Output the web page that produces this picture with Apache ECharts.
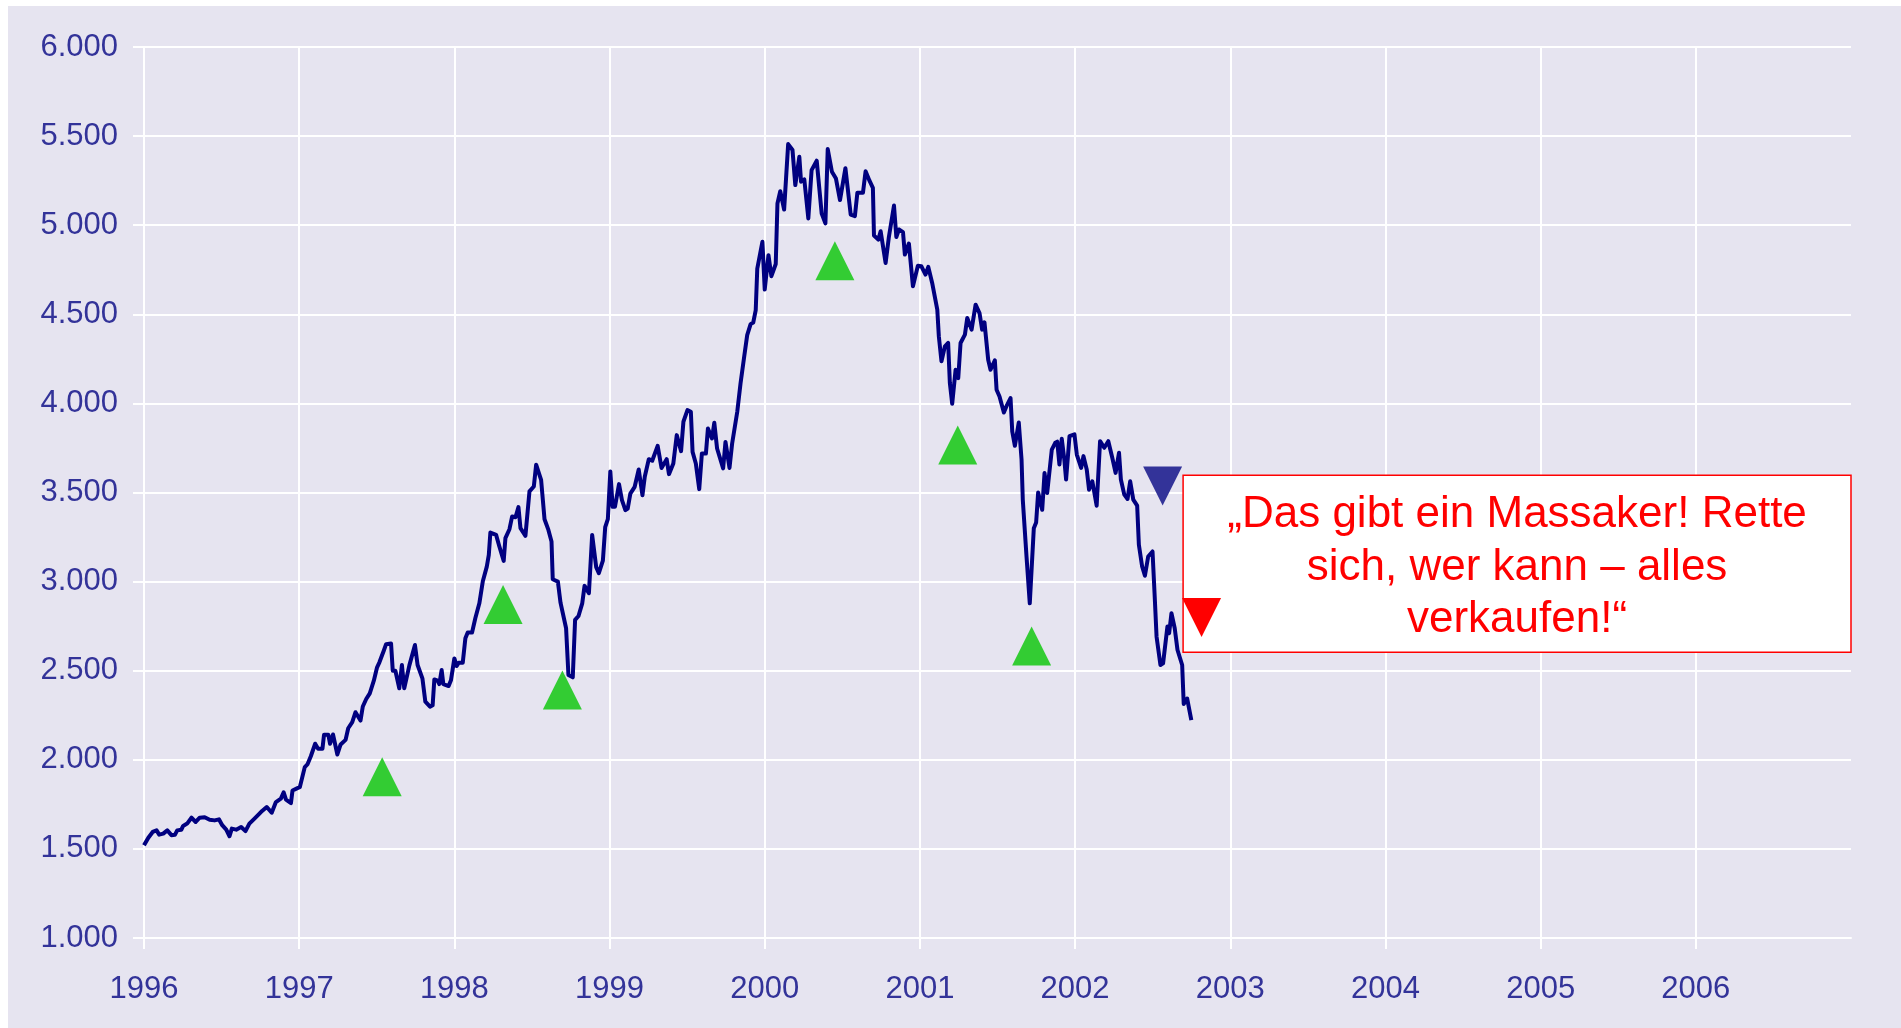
<!DOCTYPE html>
<html>
<head>
<meta charset="utf-8">
<title>Index 1996-2002</title>
<script src="https://cdn.jsdelivr.net/npm/echarts@6.0.0/dist/echarts.min.js"></script>
<style>
  html, body { margin: 0; padding: 0; background: #ffffff; }
  #chart { position: absolute; left: 8px; top: 6px; width: 1893px; height: 1022px; }
</style>
</head>
<body>
<div id="chart"></div>
<script>
// weekly closes, time as decimal year
const weeks = [
  1996.000, 1996.028, 1996.056, 1996.081, 1996.098, 1996.124, 1996.150, 1996.177, 1996.199, 1996.214,
  1996.241, 1996.252, 1996.278, 1996.306, 1996.333, 1996.359, 1996.391, 1996.423, 1996.455, 1996.483,
  1996.504, 1996.530, 1996.551, 1996.566, 1996.594, 1996.626, 1996.654, 1996.679, 1996.712, 1996.744,
  1996.761, 1996.791, 1996.823, 1996.850, 1996.882, 1996.900, 1996.915, 1996.947, 1996.957, 1996.989,
  1997.004, 1997.036, 1997.053, 1997.075, 1997.103, 1997.122, 1997.150, 1997.160, 1997.188, 1997.199,
  1997.218, 1997.246, 1997.267, 1997.299, 1997.316, 1997.342, 1997.363, 1997.374, 1997.395, 1997.410,
  1997.432, 1997.455, 1997.481, 1997.502, 1997.517, 1997.545, 1997.560, 1997.592, 1997.603, 1997.620,
  1997.645, 1997.662, 1997.677, 1997.710, 1997.746, 1997.763, 1997.794, 1997.813, 1997.843, 1997.860,
  1997.871, 1997.892, 1997.903, 1997.918, 1997.929, 1997.963, 1997.978, 1998.000, 1998.015, 1998.028,
  1998.054, 1998.071, 1998.086, 1998.114, 1998.135, 1998.161, 1998.183, 1998.209, 1998.222, 1998.232,
  1998.269, 1998.290, 1998.318, 1998.329, 1998.355, 1998.372, 1998.394, 1998.413, 1998.426, 1998.458,
  1998.484, 1998.512, 1998.527, 1998.559, 1998.581, 1998.606, 1998.626, 1998.634, 1998.667, 1998.684,
  1998.720, 1998.735, 1998.763, 1998.778, 1998.800, 1998.824, 1998.839, 1998.867, 1998.888, 1998.914,
  1998.931, 1998.957, 1998.972, 1998.989, 1999.005, 1999.020, 1999.035, 1999.061, 1999.080, 1999.102,
  1999.117, 1999.134, 1999.162, 1999.188, 1999.212, 1999.227, 1999.253, 1999.275, 1999.310, 1999.335,
  1999.368, 1999.383, 1999.411, 1999.433, 1999.461, 1999.476, 1999.502, 1999.524, 1999.535, 1999.556,
  1999.578, 1999.595, 1999.621, 1999.634, 1999.660, 1999.675, 1999.693, 1999.732, 1999.747, 1999.773,
  1999.790, 1999.823, 1999.844, 1999.866, 1999.887, 1999.909, 1999.926, 1999.942, 1999.952, 1999.985,
  2000.000, 2000.024, 2000.043, 2000.071, 2000.082, 2000.100, 2000.125, 2000.151, 2000.179, 2000.197,
  2000.223, 2000.234, 2000.255, 2000.281, 2000.302, 2000.335, 2000.367, 2000.391, 2000.406, 2000.433,
  2000.459, 2000.485, 2000.520, 2000.554, 2000.581, 2000.597, 2000.633, 2000.650, 2000.675, 2000.697,
  2000.704, 2000.732, 2000.747, 2000.779, 2000.800, 2000.833, 2000.848, 2000.865, 2000.891, 2000.903,
  2000.929, 2000.955, 2000.987, 2001.009, 2001.036, 2001.054, 2001.079, 2001.112, 2001.122, 2001.139,
  2001.161, 2001.182, 2001.193, 2001.208, 2001.230, 2001.247, 2001.262, 2001.290, 2001.305, 2001.333,
  2001.359, 2001.384, 2001.401, 2001.416, 2001.440, 2001.455, 2001.483, 2001.494, 2001.513, 2001.541,
  2001.562, 2001.584, 2001.595, 2001.612, 2001.637, 2001.655, 2001.663, 2001.687, 2001.708, 2001.734,
  2001.749, 2001.762, 2001.788, 2001.803, 2001.820, 2001.850, 2001.872, 2001.885, 2001.899, 2001.914,
  2001.930, 2001.942, 2001.964, 2001.996, 2002.011, 2002.039, 2002.054, 2002.075, 2002.090, 2002.111,
  2002.139, 2002.161, 2002.188, 2002.214, 2002.240, 2002.261, 2002.283, 2002.295, 2002.317, 2002.338,
  2002.355, 2002.375, 2002.400, 2002.411, 2002.432, 2002.450, 2002.471, 2002.499, 2002.514, 2002.525,
  2002.550, 2002.567, 2002.595, 2002.606, 2002.621, 2002.642, 2002.660, 2002.690, 2002.700, 2002.722,
  2002.749
];
const closes = [
  1520, 1563, 1595, 1604, 1580, 1586, 1604, 1577, 1579, 1604,
  1608, 1629, 1642, 1675, 1651, 1675, 1678, 1664, 1660, 1666,
  1633, 1608, 1571, 1614, 1608, 1623, 1600, 1642, 1670, 1698,
  1713, 1735, 1703, 1763, 1782, 1817, 1776, 1757, 1828, 1841,
  1846, 1959, 1974, 2020, 2090, 2062, 2062, 2140, 2140, 2090,
  2142, 2030, 2086, 2112, 2177, 2211, 2267, 2272, 2220, 2299,
  2341, 2373, 2444, 2519, 2547, 2612, 2649, 2653, 2500, 2500,
  2401, 2532, 2401, 2530, 2644, 2532, 2457, 2326, 2298, 2306,
  2451, 2444, 2425, 2504, 2425, 2414, 2446, 2569, 2526, 2545,
  2545, 2682, 2714, 2714, 2794, 2878, 3000, 3084, 3150, 3275,
  3262, 3197, 3116, 3244, 3294, 3365, 3361, 3418, 3300, 3257,
  3506, 3534, 3656, 3571, 3350, 3290, 3225, 3013, 3000, 2882,
  2738, 2476, 2463, 2785, 2807, 2878, 2976, 2935, 3262, 3081,
  3047, 3118, 3305, 3350, 3618, 3420, 3420, 3547, 3457, 3401,
  3410, 3494, 3532, 3629, 3485, 3588, 3687, 3678, 3762, 3638,
  3687, 3603, 3663, 3822, 3732, 3897, 3962, 3953, 3728, 3663,
  3519, 3719, 3719, 3859, 3803, 3891, 3747, 3635, 3784, 3638,
  3775, 3953, 4112, 4252, 4383, 4445, 4454, 4523, 4757, 4907,
  4639, 4832, 4714, 4782, 5122, 5191, 5088, 5455, 5422, 5225,
  5384, 5244, 5257, 5038, 5309, 5362, 5066, 5010, 5427, 5300,
  5262, 5141, 5320, 5060, 5051, 5182, 5182, 5303, 5250, 5210,
  4942, 4919, 4966, 4788, 4934, 5110, 4934, 4976, 4961, 4835,
  4897, 4657, 4773, 4770, 4723, 4766, 4676, 4526, 4376, 4236,
  4320, 4339, 4114, 3998, 4189, 4142, 4339, 4386, 4479, 4414,
  4554, 4507, 4414, 4455, 4245, 4189, 4242, 4077, 4039, 3949,
  3992, 4030, 3843, 3762, 3893, 3684, 3459, 3140, 2878, 3300,
  3332, 3500, 3403, 3609, 3497, 3741, 3779, 3785, 3657, 3801,
  3690, 3573, 3816, 3826, 3713, 3638, 3704, 3629, 3516, 3563,
  3426, 3788, 3751, 3788, 3694, 3610, 3723, 3573, 3488, 3464,
  3563, 3460, 3426, 3207, 3085, 3033, 3141, 3169, 2898, 2691,
  2532, 2541, 2748, 2710, 2823, 2738, 2616, 2532, 2313, 2344,
  2222
];

// signal markers [time, level]
const buySignals = [
  [1997.535, 1905], [1998.314, 2871], [1998.696, 2392],
  [2000.452, 4800], [2001.244, 3766], [2001.720, 2638]
];
const warnSignal = [[2002.564, 3536]];
const sellSignal = [[2002.815, 2799]];

// quote box corners [time, level]
const quoteFrom = [2002.696, 3597];
const quoteTo = [2007, 2603];
const quoteLines = ['„Das gibt ein Massaker! Rette', 'sich, wer kann – alles', 'verkaufen!“'];

const yearTicks = [1996, 1997, 1998, 1999, 2000, 2001, 2002, 2003, 2004, 2005, 2006];

const fontFamily = '"Liberation Sans", Arial, sans-serif';
const labelColor = '#333399';

const chart = echarts.init(document.getElementById('chart'));

function thousands(v) {
  return String(v).replace(/\B(?=(\d{3})+(?!\d))/g, '.');
}

chart.setOption({
  backgroundColor: '#e6e4f0',
  animation: false,
  grid: { left: 136, right: 50, top: 41, bottom: 90 },
  xAxis: {
    type: 'value',
    min: 1996,
    max: 2007,
    interval: 1,
    axisLine: { lineStyle: { color: '#ffffff', width: 2 } },
    axisTick: { customValues: yearTicks, length: 11, lineStyle: { color: '#ffffff', width: 2 } },
    axisLabel: {
      customValues: yearTicks,
      margin: 36,
      color: labelColor,
      fontSize: 31,
      fontFamily: fontFamily,
      formatter: v => String(v)
    },
    splitLine: { show: true, lineStyle: { color: '#ffffff', width: 2 } }
  },
  yAxis: {
    type: 'value',
    min: 1000,
    max: 6000,
    interval: 500,
    axisLine: { show: true, lineStyle: { color: '#ffffff', width: 2 } },
    axisTick: { show: true, length: 11, lineStyle: { color: '#ffffff', width: 2 } },
    axisLabel: {
      margin: 26,
      color: labelColor,
      fontSize: 31,
      fontFamily: fontFamily,
      formatter: v => thousands(v)
    },
    splitLine: { show: true, lineStyle: { color: '#ffffff', width: 2 } }
  },
  series: [
    {
      name: 'Index',
      type: 'line',
      data: weeks.map((t, i) => [t, closes[i]]),
      showSymbol: false,
      lineStyle: { color: '#000080', width: 4, join: 'round' },
      z: 2
    },
    {
      name: 'Kaufsignal',
      type: 'scatter',
      data: buySignals,
      symbol: 'triangle',
      symbolSize: [39, 39],
      itemStyle: { color: '#33cc33', opacity: 1 },
      z: 3
    },
    {
      name: 'Warnung',
      type: 'scatter',
      data: warnSignal,
      symbol: 'triangle',
      symbolRotate: 180,
      symbolSize: [39, 39],
      itemStyle: { color: '#333399', opacity: 1 },
      z: 3
    },
    {
      name: 'Zitat',
      type: 'line',
      data: [],
      z: 4,
      markArea: {
        silent: true,
        itemStyle: { color: '#ffffff', borderColor: '#ff0000', borderWidth: 1.5, opacity: 1 },
        label: {
          show: true,
          position: 'inside',
          offset: [0, 4],
          color: '#ff0000',
          fontSize: 44,
          lineHeight: 52.5,
          fontFamily: fontFamily,
          align: 'center',
          formatter: quoteLines.join('\n')
        },
        data: [[{ coord: quoteFrom }, { coord: quoteTo }]]
      }
    },
    {
      name: 'Verkaufsignal',
      type: 'scatter',
      data: sellSignal,
      symbol: 'triangle',
      symbolRotate: 180,
      symbolSize: [39, 39],
      itemStyle: { color: '#ff0000', opacity: 1 },
      z: 6
    }
  ]
});
</script>
</body>
</html>
